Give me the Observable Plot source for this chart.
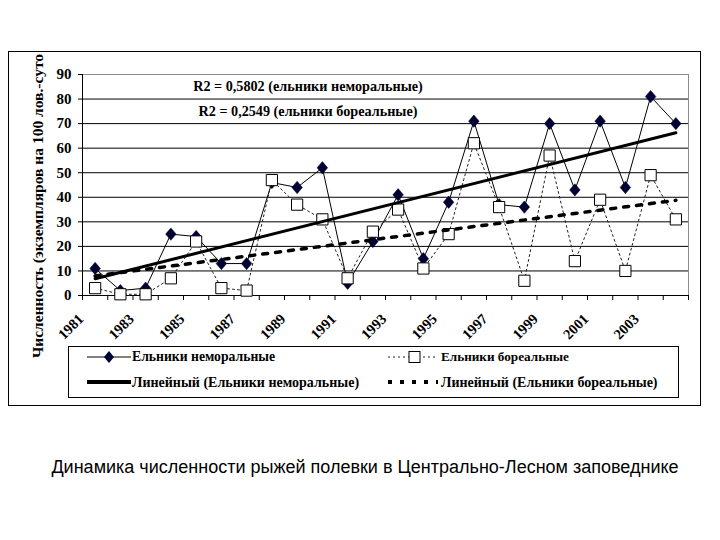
<!DOCTYPE html>
<html><head><meta charset="utf-8">
<script src="https://cdn.jsdelivr.net/npm/d3@7"></script>
<script src="https://cdn.jsdelivr.net/npm/@observablehq/plot@0.6"></script>
<style>
body{margin:0;background:#fff;}
#wrap{position:relative;width:720px;height:540px;overflow:hidden;}
#wrap svg.plot{position:absolute;left:0;top:0;background:transparent;}
.abs{position:absolute;white-space:nowrap;}
.b{font-weight:bold;font-family:'Liberation Serif','Times New Roman','DejaVu Serif',serif;color:#000;}
</style>
</head><body>
<div id="wrap">
  <div class="abs" style="left:8px;top:51px;width:691px;height:353px;border:1px solid #000;"></div>
</div>
<script>
const years = [1981,1982,1983,1984,1985,1986,1987,1988,1989,1990,1991,1992,1993,1994,1995,1996,1997,1998,1999,2000,2001,2002,2003,2004];
const nemoral = [11,2,3,25,24,13,13,46,44,52,5,22,41,15,38,71,37,36,70,43,71,44,81,70];
const boreal = [3,0.5,0.5,7,22,3,2,47,37,31,7,26,35,11,25,62,36,6,57,14,39,10,49,31];
const labelYears = [1981,1983,1985,1987,1989,1991,1993,1995,1997,1999,2001,2003];
const yTicks = [0,10,20,30,40,50,60,70,80,90];
const nameNem = "Ельники неморальные";
const nameBor = "Ельники бореальные";
const r2Nem = "R2 = 0,5802 (ельники неморальные)";
const r2Bor = "R2 = 0,2549 (ельники бореальные)";
const yTitle = "Численность (экземпляров на 100 лов.-суто";
const caption = "Динамика численности рыжей полевки в Центрально-Лесном заповеднике";

const nemData = years.map((y,i)=>({year:y, v:nemoral[i]}));
const borData = years.map((y,i)=>({year:y, v:boreal[i]}));
const bounds = [years[0]-0.5, ...years.map(y=>y+0.5)];

const diamond = {draw(ctx,size){const s=Math.sqrt(size/Math.PI);ctx.moveTo(0,-s);ctx.lineTo(s*0.85,0);ctx.lineTo(0,s);ctx.lineTo(-s*0.85,0);ctx.closePath();}};
const square = {draw(ctx,size){const s=Math.sqrt(size/Math.PI);ctx.rect(-s,-s,2*s,2*s);}};

const F = {fontFamily:"'Liberation Serif','Times New Roman','DejaVu Serif',serif", fontWeight:"bold"};

const chart = Plot.plot({
  width:720, height:420,
  marginLeft:82, marginRight:32, marginTop:74, marginBottom:125,
  x:{domain:[bounds[0], bounds[bounds.length-1]], label:null},
  y:{domain:[0,90], label:null},
  marks:[
    Plot.gridY({ticks:yTicks.filter(t=>t>0&&t<90), stroke:"#000", strokeOpacity:1}),
    Plot.frame({stroke:"#8c8c8c"}),
    Plot.ruleX([bounds[0]], {stroke:"#000"}),
    Plot.ruleY([0], {stroke:"#000"}),
    Plot.axisY({ticks:yTicks, tickSize:4, tickPadding:7, fontSize:15, ...F, tickFormat:d=>String(d), label:null}),
    Plot.axisX({ticks:bounds, tickSize:5, tickFormat:()=> "", label:null}),
    Plot.axisX({ticks:labelYears, tickSize:0, tickPadding:17, tickRotate:-45, fontSize:14.5, dx:-14, dy:4, ...F, tickFormat:d=>String(d), label:null}),
    Plot.line(nemData, {x:"year", y:"v", stroke:"#000", strokeWidth:1}),
    Plot.dot(nemData, {x:"year", y:"v", symbol:diamond, r:6.2, fill:"#000033", stroke:"#000033", strokeWidth:0.5}),
    Plot.line(borData, {x:"year", y:"v", stroke:"#222", strokeWidth:1, strokeDasharray:"2,3"}),
    Plot.dot(borData, {x:"year", y:"v", symbol:square, r:5.6, fill:"#fff", stroke:"#000", strokeWidth:1}),
    Plot.linearRegressionY(nemData, {x:"year", y:"v", stroke:"#000", strokeWidth:3, ci:0}),
    Plot.linearRegressionY(borData, {x:"year", y:"v", stroke:"#000", strokeWidth:3.5, strokeDasharray:"5,8", ci:0})
  ]
});
chart.classList.add("plot");
const wrap = document.getElementById("wrap");
wrap.appendChild(chart);

function add(html, style){const d=document.createElement("div");d.className="abs";d.setAttribute("style",style);d.innerHTML=html;wrap.appendChild(d);return d;}

// y title
add(`<span class="b" style="font-size:15.5px;">${yTitle}</span>`,
  "left:38px;top:206px;transform:translate(-50%,-50%) rotate(-90deg);line-height:1;");
// R2 annotations
add(`<span class="b" style="font-size:14.2px;">${r2Nem}</span>`, "left:308px;top:86px;transform:translate(-50%,-50%);line-height:1;");
add(`<span class="b" style="font-size:14.2px;">${r2Bor}</span>`, "left:308px;top:111px;transform:translate(-50%,-50%);line-height:1;");

// legend
const lg = add("", "left:68px;top:346px;width:609px;height:50px;border:1px solid #000;background:#fff;");
const dpath = "M0,-6 L5,0 L0,6 L-5,0 Z";
lg.innerHTML = `
<svg width="609" height="50" style="position:absolute;left:0;top:0;overflow:visible">
  <line x1="18" x2="62" y1="10" y2="10" stroke="#000" stroke-width="1"/>
  <path d="${dpath}" transform="translate(40,10)" fill="#000033"/>
  <line x1="18" x2="62" y1="35" y2="35" stroke="#000" stroke-width="4"/>
  <line x1="319" x2="367" y1="10" y2="10" stroke="#222" stroke-width="1" stroke-dasharray="2,3"/>
  <rect x="340" y="4.5" width="11" height="11" fill="#fff" stroke="#000"/>
  <line x1="319" x2="369" y1="35" y2="35" stroke="#000" stroke-width="4" stroke-dasharray="4,8"/>
</svg>
<div class="abs b" style="left:63px;top:10px;transform:translateY(-50%);font-size:13.7px;line-height:1;">${nameNem}</div>
<div class="abs b" style="left:63px;top:36px;transform:translateY(-50%);font-size:14px;line-height:1;">Линейный (${nameNem})</div>
<div class="abs b" style="left:372px;top:10px;transform:translateY(-50%);font-size:13.2px;line-height:1;">${nameBor}</div>
<div class="abs b" style="left:372px;top:36px;transform:translateY(-50%);font-size:14px;line-height:1;">Линейный (${nameBor})</div>`;

// caption
add(`<span style="font-family:'Liberation Sans',Arial,sans-serif;font-size:18px;color:#000;">${caption}</span>`,
  "left:365px;top:467px;transform:translate(-50%,-50%);line-height:1;");
</script>
</body></html>
